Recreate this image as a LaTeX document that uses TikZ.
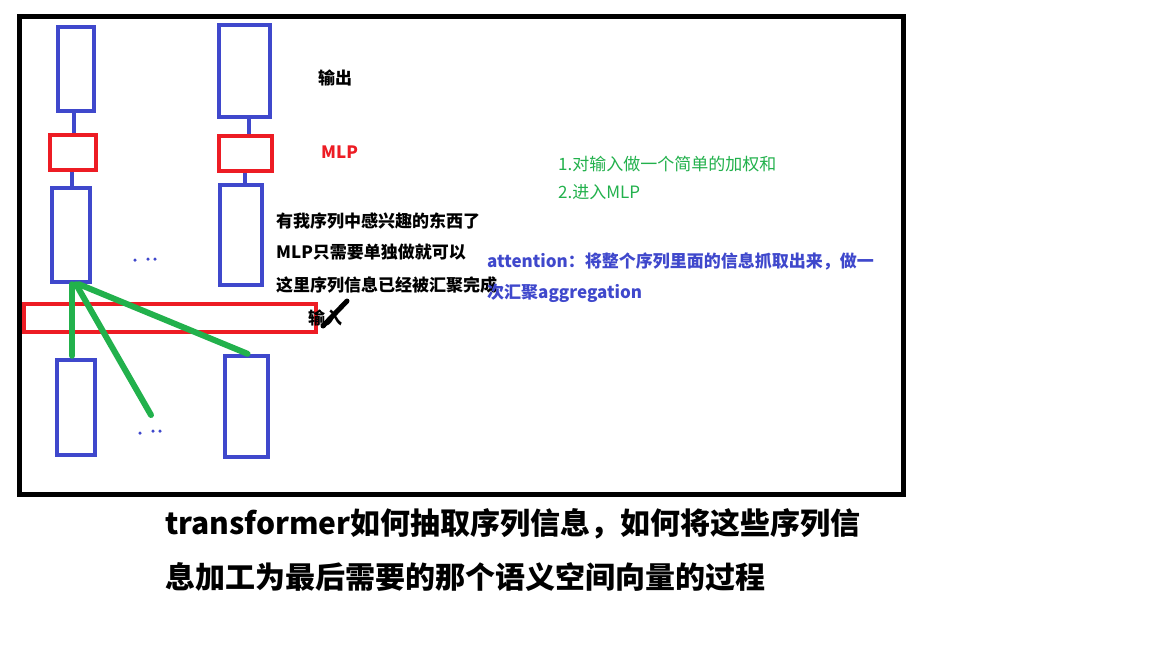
\documentclass[tikz,border=0pt]{standalone}
\usepackage{fontspec}
\newfontfamily\cjk{Noto Sans CJK SC}
\definecolor{pblue}{HTML}{3F48CC}
\definecolor{pred}{HTML}{ED1C24}
\definecolor{pgreen}{HTML}{22B14C}
\begin{document}
\begin{tikzpicture}[x=1pt,y=-1pt,
  bluebox/.style={draw=pblue,line width=4.5pt,inner sep=0pt,rectangle},
  redbox/.style={draw=pred,line width=4.5pt,inner sep=0pt,rectangle},
  link/.style={draw=pblue,line width=4.5pt},
  greenline/.style={draw=pgreen,line width=6pt,line cap=round},
  dotmark/.style={fill=pblue,circle,inner sep=0pt,minimum size=3.5pt},
  label/.style={anchor=base west,inner sep=0pt,font=\cjk\fontsize{17}{20}\selectfont},
  boldlabel/.style={label,font=\cjk\bfseries\fontsize{17}{20}\selectfont},
  title/.style={anchor=base west,inner sep=0pt,font=\cjk\bfseries\fontsize{30}{34}\selectfont}]
\useasboundingbox[fill=white] (0,0) rectangle (1152,648);
% outer frame
\node[draw=black,line width=5pt,rectangle,inner sep=0pt,minimum width=884pt,minimum height=478pt] (frame) at (461,255) {};

% first column
\node[bluebox,minimum width=36pt,minimum height=84pt] (top1) at (76,69) {};
\node[redbox,minimum width=46pt,minimum height=35pt] (red1) at (73,152.5) {};
\node[bluebox,minimum width=38pt,minimum height=94pt] (mid1) at (71,235) {};
\node[bluebox,minimum width=38pt,minimum height=95pt] (bot1) at (76,407.5) {};

% second column
\node[bluebox,minimum width=51pt,minimum height=92pt] (top2) at (244.5,71) {};
\node[redbox,minimum width=53pt,minimum height=35pt] (red2) at (245.5,153.5) {};
\node[bluebox,minimum width=42pt,minimum height=100pt] (mid2) at (241,235) {};
\node[bluebox,minimum width=43pt,minimum height=101pt] (bot2) at (246.5,406.5) {};

% input bar
\node[redbox,minimum width=292pt,minimum height=28pt] (inbar) at (170,318) {};

% column links
\draw[link] ([xshift=1pt]red1.north) -- ([xshift=1pt]red1.north |- top1.south);
\draw[link] ([xshift=1pt]mid1.north) -- ([xshift=1pt]mid1.north |- red1.south);
\draw[link] ([xshift=3.5pt]red2.north) -- ([xshift=3.5pt]red2.north |- top2.south);
\draw[link] ([xshift=4pt]mid2.north) -- ([xshift=4pt]mid2.north |- red2.south);

% attention lines
\coordinate (gend) at (151,415);
\draw[greenline] ([xshift=1pt]mid1.south) -- ([xshift=1pt,yshift=2pt]mid1.south |- bot1.north);
\draw[greenline] ([xshift=5pt]mid1.south) -- (gend);
\draw[greenline] ([xshift=8pt]mid1.south) -- ([xshift=1pt]bot2.north);

% ellipsis dots
\node[dotmark] (d1) at (135,260) {};
\node[dotmark] (d2) at (148,259) {};
\node[dotmark] (d3) at (155,259) {};
\node[dotmark] (d4) at (140,433) {};
\node[dotmark] (d5) at (153,431) {};
\node[dotmark] (d6) at (160,431) {};

% labels
\node[boldlabel] (tout) at (318,84.5) {输出};
\node[boldlabel,text=pred] (tmlp) at (321,158) {MLP};
\node[label,text=pgreen] (tg1) at (558,170) {1.对输入做一个简单的加权和};
\node[label,text=pgreen] (tg2) at (558,198) {2.进入MLP};
\node[boldlabel] (tl1) at (276,227) {有我序列中感兴趣的东西了};
\node[boldlabel] (tl2) at (276,258) {MLP只需要单独做就可以};
\node[boldlabel] (tl3) at (276,291) {这里序列信息已经被汇聚完成};
\node[boldlabel,text=pblue] (ta1) at (487,267) {attention：将整个序列里面的信息抓取出来，做一};
\node[boldlabel,text=pblue] (ta2) at (487,298) {次汇聚aggregation};
\node[boldlabel] (tin) at (308,324.5) {输入};

% pen stroke over the input label
\coordinate (s1) at (347,301);
\coordinate (s2) at (323,326);
\draw[line width=5pt,line cap=round] (s1) -- (s2);

% caption
\node[title] (cap1) at (165,534) {transformer如何抽取序列信息，如何将这些序列信};
\node[title] (cap2) at (165,588) {息加工为最后需要的那个语义空间向量的过程};
\end{tikzpicture}
\end{document}
